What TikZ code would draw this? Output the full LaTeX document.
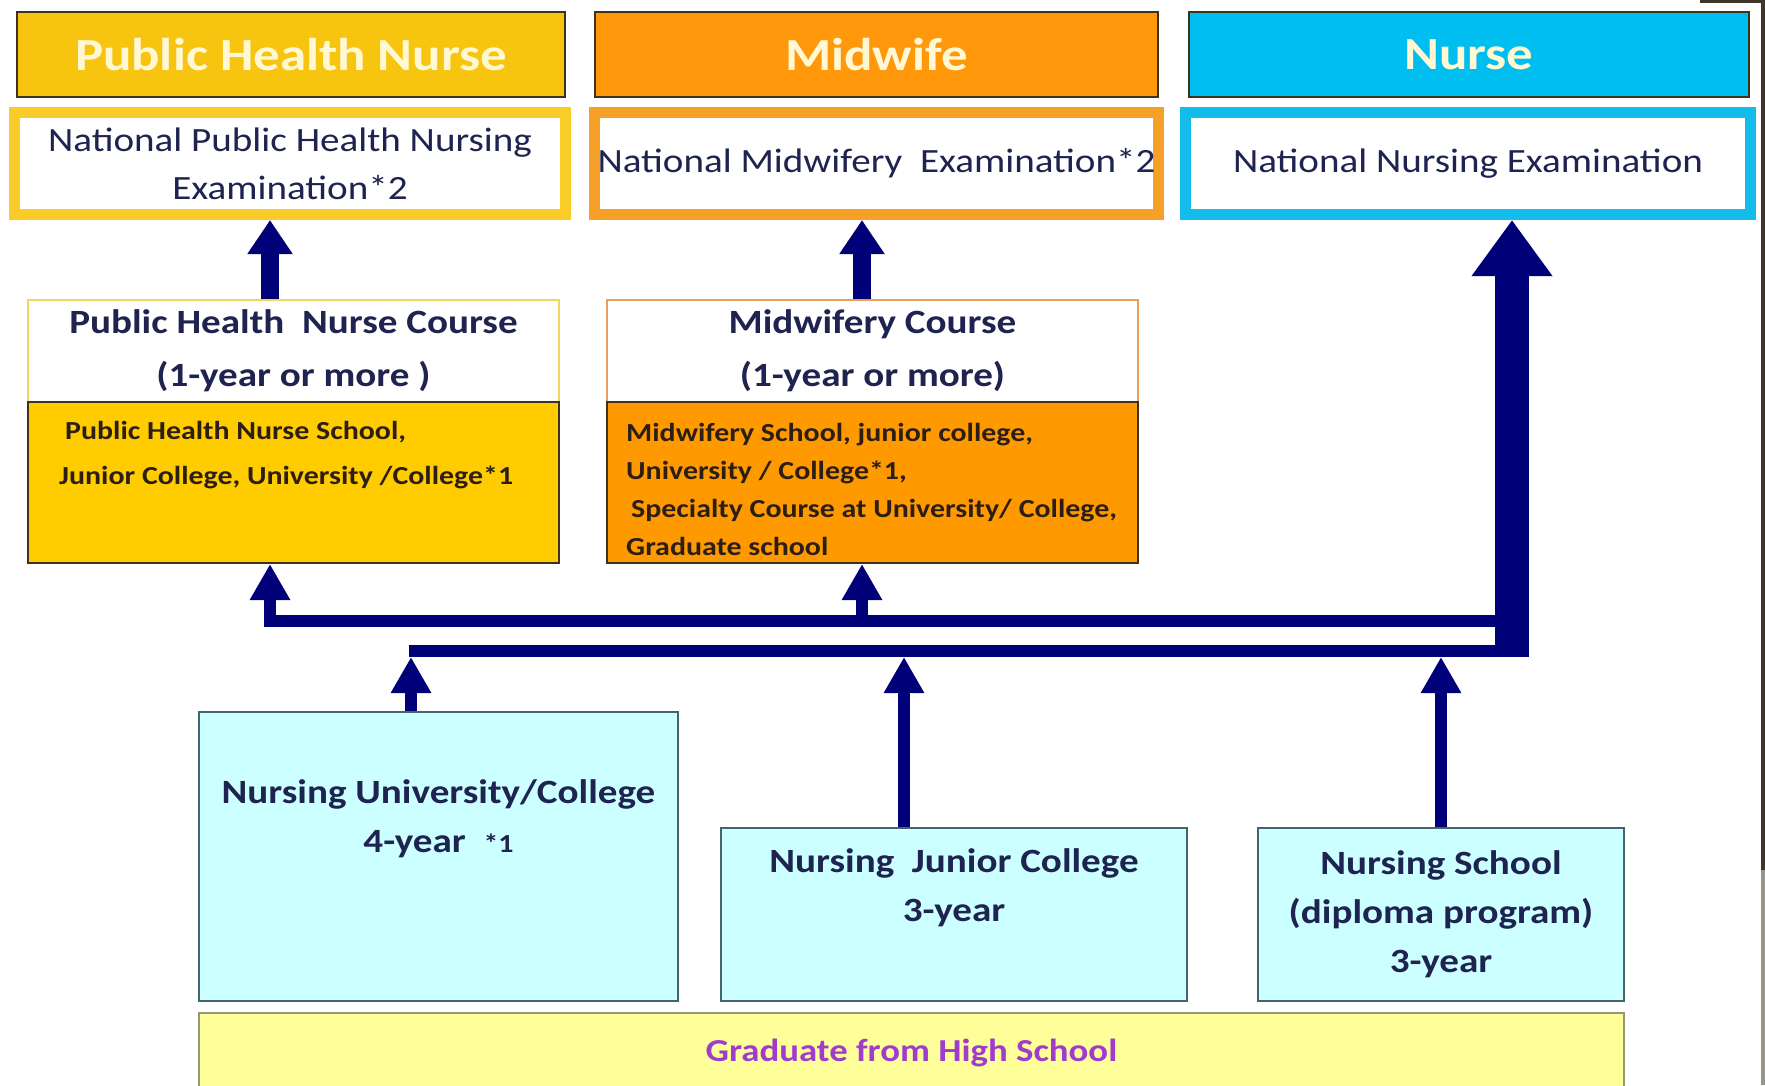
\documentclass[tikz,border=0pt]{standalone}
\usepackage{fontspec}
\setmainfont{Carlito}[FakeStretch=1.15]
\usetikzlibrary{arrows.meta}
\definecolor{phnhead}{RGB}{247,197,16}
\definecolor{phnframe}{RGB}{250,204,40}
\definecolor{phnbody}{RGB}{255,204,0}
\definecolor{phnthin}{RGB}{240,215,90}
\definecolor{midhead}{RGB}{255,152,10}
\definecolor{midframe}{RGB}{246,160,40}
\definecolor{midbody}{RGB}{255,153,0}
\definecolor{midthin}{RGB}{232,160,90}
\definecolor{nurhead}{RGB}{0,190,240}
\definecolor{nurframe}{RGB}{20,188,235}
\definecolor{lowfill}{RGB}{204,255,255}
\definecolor{lowdraw}{RGB}{70,100,110}
\definecolor{gradfill}{RGB}{255,255,153}
\definecolor{graddraw}{RGB}{150,150,120}
\definecolor{gradtext}{RGB}{160,60,205}
\definecolor{navy}{RGB}{0,0,120}
\definecolor{txtnavy}{RGB}{30,35,80}
\definecolor{bodytxt}{RGB}{45,30,20}
\definecolor{headtxt}{RGB}{255,248,210}
\definecolor{headline}{RGB}{60,50,30}
\definecolor{edgedark}{RGB}{60,55,40}
\definecolor{edgegray}{RGB}{150,150,140}
\newcommand\fsz[2]{\fontsize{#1}{#2}\selectfont}
\begin{document}
\begin{tikzpicture}[x=1pt,y=-1pt,
  headbox/.style={draw=headline, line width=2pt, fill=#1, minimum height=85pt,
    font=\bfseries\fsz{46}{50}, text=headtxt},
  exambox/.style={draw=#1, line width=11pt, fill=white, minimum height=102pt,
    align=center, font=\fsz{34}{48}, text=txtnavy},
  ctitle/.style={draw=#1, line width=1.5pt, fill=white, minimum width=531pt,
    minimum height=102pt, align=center, font=\bfseries\fsz{34}{53}, text=txtnavy},
  cbody/.style={draw=headline, line width=2pt, fill=#1, minimum width=531pt,
    minimum height=161pt},
  bodytext/.style={anchor=west, inner sep=0pt, align=left,
    font=\bfseries\fsz{26}{#1}, text=bodytxt},
  lowbox/.style={draw=lowdraw, line width=2pt, fill=lowfill},
  lowtext/.style={align=center, font=\bfseries\fsz{34}{49}, text=txtnavy},
  bigarr/.style={draw=navy, line width=18pt, -{Triangle[width=43pt,length=34pt]}},
  smallarr/.style={draw=navy, line width=12pt, line join=miter,
    -{Triangle[width=38pt,length=36pt]}},
  busline/.style={draw=navy, line width=12pt, line join=miter},
  mainarr/.style={draw=navy, line width=34pt, -{Triangle[width=77pt,length=56pt]}}
]
\useasboundingbox (0,0) rectangle (1765,1085);
\fill[white] (0,0) rectangle (1765,1085);
\fill[edgedark] (1761,0) rectangle (1765,870);
\fill[edgegray] (1761,870) rectangle (1765,1085);
\fill[edgedark] (1700,0) rectangle (1765,3);

% headers
\node[headbox=phnhead, minimum width=548pt] (phnhead) at (291,54.5) {Public Health Nurse};
\node[headbox=midhead, minimum width=563pt] (midhead) at (876.5,54.5) {Midwife};
\node[headbox=nurhead, minimum width=560pt] (nurhead) at (1469,54.5) {Nurse};

% exams
\node[exambox=phnframe, minimum width=551pt] (phnexam) at (290,163.5)
  {National Public Health Nursing\\Examination*2};
\node[exambox=midframe, minimum width=562pt] (midexam) at (876.5,163.5)
  {National Midwifery\ \ Examination*2};
\node[exambox=nurframe, minimum width=565pt] (nurexam) at (1468,163.5)
  {National Nursing Examination};

% courses
\node[ctitle=phnthin] (phntitle) at (293.5,351) {Public Health\ \ Nurse Course\\(1-year or more )};
\node[cbody=phnbody] (phnbody) at (293.5,482.5) {};
\node[bodytext=45] (phntxt) at (59,455)
  {\hspace*{6pt}Public Health Nurse School,\\Junior College, University /College*1};

\node[ctitle=midthin] (midtitle) at (872.5,351) {Midwifery Course\\(1-year or more)};
\node[cbody=midbody] (midbody) at (872.5,482.5) {};
\node[bodytext=38] (midtxt) at (626,489)
  {Midwifery School, junior college,\\University / College*1,\\\hspace*{5pt}Specialty Course at University/ College,\\Graduate school};

% lower boxes
\node[lowbox, minimum width=479pt, minimum height=289pt] (univ) at (438.5,856.5) {};
\node[lowtext] (univtxt) at (438.5,819)
  {Nursing University/College\\4-year\ \ {\fsz{26}{26}*1}};
\node[lowbox, minimum width=466pt, minimum height=173pt] (jc) at (954,914.5) {};
\node[lowtext] (jctxt) at (954,888) {Nursing\ \ Junior College\\3-year};
\node[lowbox, minimum width=366pt, minimum height=173pt, lowtext] (ns) at (1441,914.5)
  {Nursing School\\(diploma program)\\3-year};
\node[draw=graddraw, line width=2pt, fill=gradfill, minimum width=1425pt, minimum height=79pt,
  font=\bfseries\fsz{32}{36}, text=gradtext] (grad) at (911.5,1052.5) {Graduate from High School};

% junction coordinates
\coordinate (jU) at (1512,621);
\coordinate (jM) at (862,621);
\coordinate (jL) at (409,651);
\coordinate (jLR) at (1512,651);
\coordinate (jB) at (1512,657);

% arrows course -> exam
\draw[bigarr] ([xshift=-23.5pt]phntitle.north) -- ([xshift=-23.5pt]phntitle.north |- phnexam.south);
\draw[bigarr] ([xshift=-10.5pt]midtitle.north) -- ([xshift=-10.5pt]midtitle.north |- midexam.south);

% bus lines
\draw[busline] (jL) -- (jLR);
\draw[smallarr] (jU) -| ([xshift=-23.5pt]phnbody.south);
\draw[smallarr] (jM) -- (jM |- midbody.south);
\draw[mainarr] (jB) -- (jB |- nurexam.south);

% arrows from schools
\draw[smallarr] ([xshift=-27.5pt]univ.north) -- ([xshift=-27.5pt]univ.north |- jB);
\draw[smallarr] ([xshift=-50pt]jc.north) -- ([xshift=-50pt]jc.north |- jB);
\draw[smallarr] (ns.north) -- (ns.north |- jB);
\end{tikzpicture}
\end{document}
